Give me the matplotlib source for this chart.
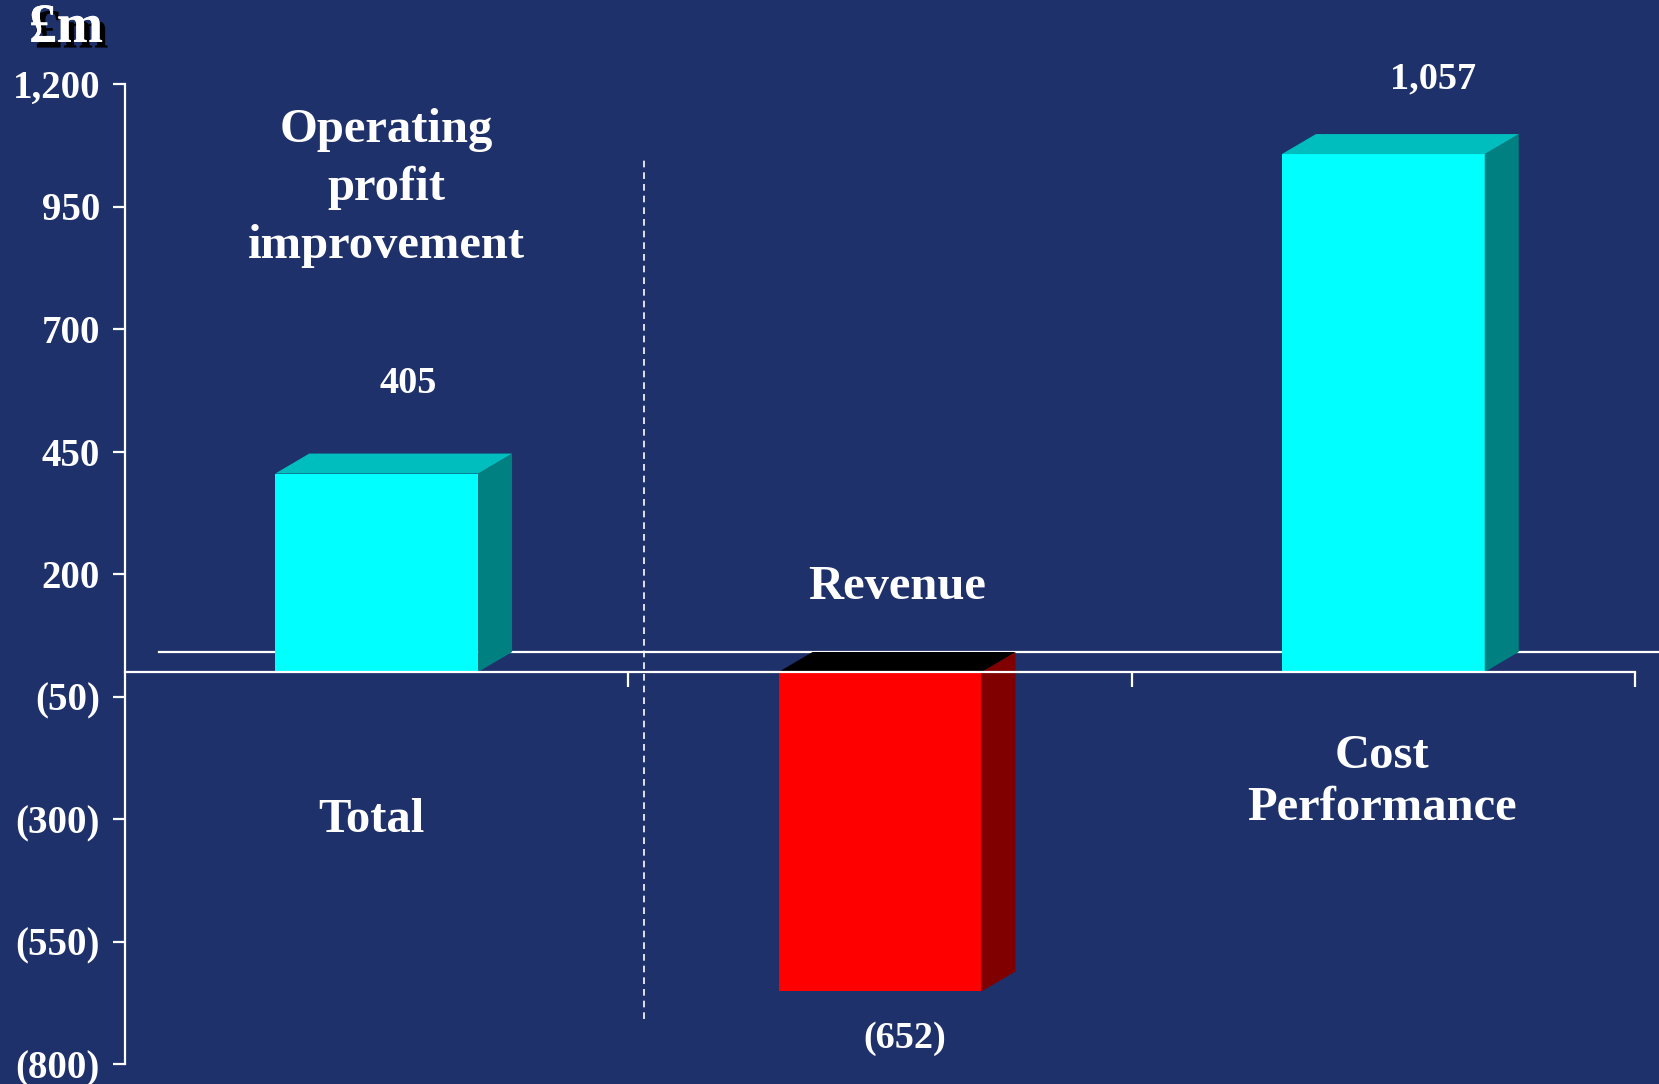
import matplotlib
matplotlib.use("Agg")
import matplotlib.pyplot as plt
from matplotlib.patches import Polygon, Rectangle
import matplotlib.patheffects as pe

# ---- data ----
categories = ["Total", "Revenue", "Cost\nPerformance"]
values = [405, -652, 1057]
value_labels = ["405", "(652)", "1,057"]
yticks = [-800, -550, -300, -50, 200, 450, 700, 950, 1200]
unit_label = "£m"
section_title = "Operating\nprofit\nimprovement"

# ---- style ----
BG = "#1E316A"
FRONT = ["#00FFFF", "#FF0000", "#00FFFF"]
SIDE = ["#008080", "#800000", "#008080"]
TOP = ["#00BEBE", "#000000", "#00BEBE"]
plt.rcParams["font.family"] = ["Liberation Serif", "DejaVu Serif"]
plt.rcParams["font.weight"] = "bold"

fig = plt.figure(figsize=(16.59, 10.84), dpi=100, facecolor=BG)
ax_bottom = 1 - 1064 / 1084
ax_top = 1 - 84 / 1084
ax = fig.add_axes([0.07535, ax_bottom, 0.91018, ax_top - ax_bottom])
ax.set_facecolor(BG)
ax.set_xlim(0, 3)
ax.set_ylim(-800, 1200)

# pixel-based depth for pseudo-3D
W = 0.403
px_per_x = 0.91018 * 1659 / 3
px_per_y = (ax_top - ax_bottom) * 1084 / 2000
DX = 34 / px_per_x
DY = 20 / px_per_y

# back floor line
ax.plot([DX, 3 + DX + 0.2], [DY, DY], color="white", lw=1.6, zorder=1, clip_on=False)

for i, v in enumerate(values):
    c = i + 0.5
    l, r = c - W / 2, c + W / 2
    ax.add_patch(Rectangle((l, 0), W, v, facecolor=FRONT[i], edgecolor="none", zorder=2))
    ax.add_patch(Polygon([(r, 0), (r + DX, DY), (r + DX, v + DY), (r, v)],
                         closed=True, facecolor=SIDE[i], edgecolor="none", zorder=2))
    top = max(v, 0)
    ax.add_patch(Polygon([(l, top), (l + DX, top + DY), (r + DX, top + DY), (r, top)],
                         closed=True, facecolor=TOP[i], edgecolor="none", zorder=2))

# dashed separator
ax.plot([1.031, 1.031], [-708, 1045], color="white", lw=1.2, ls=(0, (4, 3)), zorder=3)

# spines / ticks
for s in ["top", "right"]:
    ax.spines[s].set_visible(False)
ax.spines["left"].set_color("white")
ax.spines["left"].set_linewidth(1.6)
ax.spines["bottom"].set_position(("data", 0))
ax.spines["bottom"].set_color("white")
ax.spines["bottom"].set_linewidth(1.6)
ax.spines["bottom"].set_zorder(4)
ax.set_xticks([1, 2, 3])
ax.set_xticklabels([])
ax.tick_params(axis="x", direction="out", length=11, width=1.6, color="white")
ax.set_yticks(yticks)
ax.set_yticklabels([f"{v:,}" if v >= 0 else f"({abs(v):,})" for v in yticks])
ax.tick_params(axis="y", direction="out", length=9, width=1.6, color="white",
               labelcolor="white", labelsize=28, pad=9)
for t in ax.get_yticklabels():
    t.set_fontweight("bold")

# texts
tk = dict(color="white", fontweight="bold", ha="center", va="center", zorder=5)
ax.text(0.52, 988, section_title, fontsize=35, linespacing=1.4, **tk)
val_pos = [(0.562, 588), (1.55, -748), (2.599, 1210)]
for (x, y), s in zip(val_pos, value_labels):
    ax.text(x, y, s, fontsize=27.5, clip_on=False, **tk)
cat_pos = [(0.489, -302), (1.534, 174), (2.497, -224)]
for (x, y), s in zip(cat_pos, categories):
    ax.text(x, y, s, fontsize=35, linespacing=1.22, **tk)

fig.text(66 / 1659, 1 - 28 / 1084, unit_label, color="white", fontsize=40,
         fontweight="bold", ha="center", va="center",
         path_effects=[pe.withSimplePatchShadow(offset=(4, -4), shadow_rgbFace="black", alpha=1.0),
                       pe.Normal()])

fig.savefig("out.png", dpi=100, facecolor=BG)
